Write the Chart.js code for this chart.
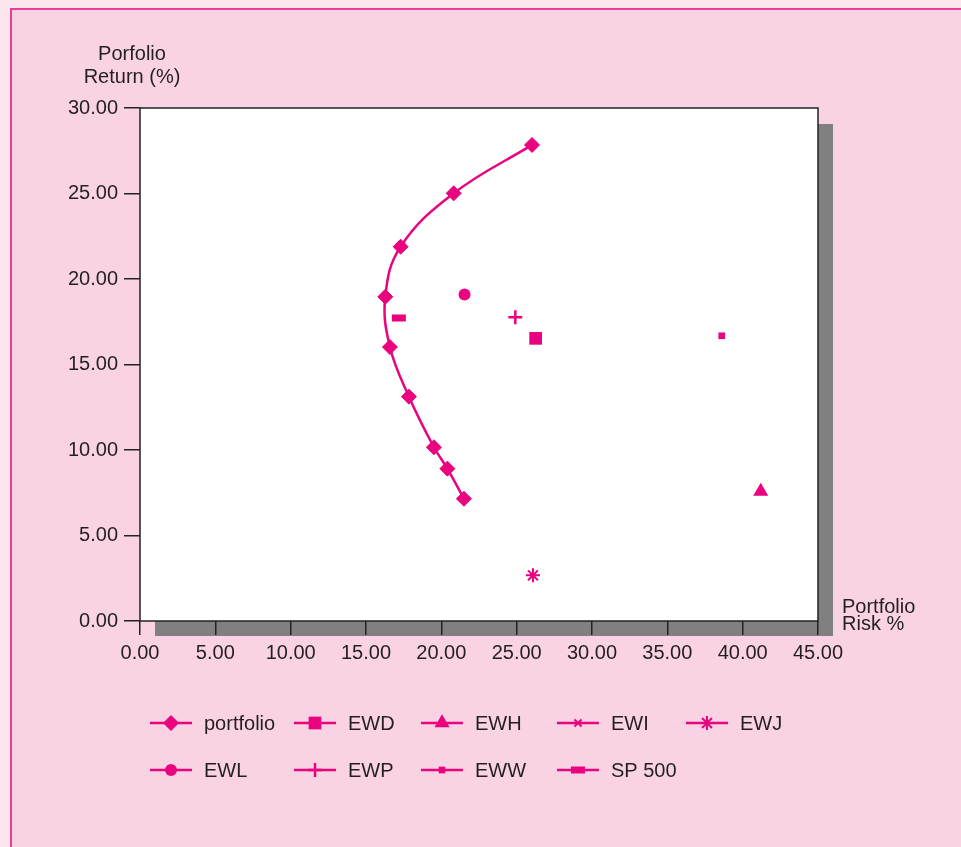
<!DOCTYPE html>
<html>
<head>
<meta charset="utf-8">
<script src="https://cdn.jsdelivr.net/npm/chart.js@4.4.1/dist/chart.umd.min.js"></script>
<style>
  html, body { margin: 0; padding: 0; background: #fde5ee; }
  #wrap { width: 961px; height: 847px; }
</style>
</head>
<body>
<div id="wrap"><canvas id="RiskChart" width="961" height="847"></canvas></div>
<script>
// efficient frontier points (risk %, return %)
const portfolioRisk = [26.02, 20.82, 17.30, 16.28, 16.59, 17.85, 19.51, 20.40, 21.50];
const portfolioReturn = [27.84, 25.01, 21.89, 18.96, 16.02, 13.12, 10.16, 8.91, 7.15];

// single funds
const fundNames = ['EWD', 'EWH', 'EWI', 'EWJ', 'EWL', 'EWP', 'EWW', 'SP 500'];
const fundRisk = [26.26, 41.20, null, 26.08, 21.54, 24.91, 38.61, 17.18];
const fundReturn = [16.53, 7.58, null, 2.67, 19.09, 17.77, 16.68, 17.72];

const xTicks = [0, 5, 10, 15, 20, 25, 30, 35, 40, 45];
const yTicks = [0, 5, 10, 15, 20, 25, 30];

const pink = '#e9037f';
const textColor = '#231f20';
const font = '20px "Liberation Sans", Arial, sans-serif';

const markers = {
    'EWD': { pointStyle: 'rect', radius: 9, borderWidth: 0 },
    'EWH': { pointStyle: 'triangle', radius: 8.7, borderWidth: 0 },
    'EWI': { pointStyle: 'crossRot', radius: 5, borderWidth: 2 },
    'EWJ': { pointStyle: 'star', radius: 7, borderWidth: 2 },
    'EWL': { pointStyle: 'circle', radius: 6, borderWidth: 0 },
    'EWP': { pointStyle: 'cross', radius: 7, borderWidth: 2.5 },
    'EWW': { pointStyle: 'rect', radius: 4.7, borderWidth: 0 },
    'SP 500': { pointStyle: 'line', radius: 7, borderWidth: 7 }
};

const datasets = [{
    label: 'portfolio',
    data: portfolioRisk.map((x, i) => ({ x: x, y: portfolioReturn[i] })),
    showLine: true,
    tension: 0.4,
    borderColor: pink,
    backgroundColor: pink,
    borderWidth: 2.5,
    pointStyle: 'rectRot',
    pointRadius: 7.5,
    pointBorderWidth: 1,
    pointBorderColor: pink,
    pointBackgroundColor: pink
}];
fundNames.forEach((name, i) => {
    const m = markers[name];
    datasets.push({
        label: name,
        data: fundRisk[i] === null ? [] : [{ x: fundRisk[i], y: fundReturn[i] }],
        showLine: false,
        pointStyle: m.pointStyle,
        pointRadius: m.radius,
        pointBorderWidth: m.borderWidth,
        pointBorderColor: pink,
        pointBackgroundColor: pink,
        borderColor: pink,
        backgroundColor: pink
    });
});

// background, shadow, plot box, axis titles
const framePlugin = {
    id: 'frame',
    beforeDraw(chart) {
        const ctx = chart.ctx;
        const a = chart.chartArea;
        ctx.save();
        ctx.fillStyle = '#fde5ee';
        ctx.fillRect(0, 0, 961, 847);
        ctx.fillStyle = '#f9d3e3';
        ctx.fillRect(11, 9, 950, 838);
        ctx.strokeStyle = '#ea3f96';
        ctx.lineWidth = 2;
        ctx.beginPath();
        ctx.moveTo(11, 847);
        ctx.lineTo(11, 9);
        ctx.lineTo(961, 9);
        ctx.stroke();
        ctx.fillStyle = '#808080';
        ctx.fillRect(a.left + 15, a.top + 16, a.right - a.left, a.bottom - a.top - 1);
        ctx.fillStyle = '#ffffff';
        ctx.fillRect(a.left, a.top, a.right - a.left, a.bottom - a.top);
        ctx.restore();
    },
    beforeDatasetsDraw(chart) {
        const ctx = chart.ctx;
        const a = chart.chartArea;
        ctx.save();
        ctx.strokeStyle = '#222';
        ctx.lineWidth = 1.5;
        ctx.strokeRect(a.left, a.top, a.right - a.left, a.bottom - a.top);
        ctx.fillStyle = textColor;
        ctx.font = font;
        ctx.textBaseline = 'middle';
        ctx.textAlign = 'center';
        ctx.fillText('Porfolio', 132, 54);
        ctx.fillText('Return (%)', 132, 77);
        ctx.textAlign = 'left';
        ctx.fillText('Portfolio', 842, 607);
        ctx.fillText('Risk %', 842, 624);
        ctx.restore();
    }
};

// legend laid out in a grid like the original
const legendPlugin = {
    id: 'gridLegend',
    afterDraw(chart) {
        const ctx = chart.ctx;
        const cols = [150, 294, 421, 557, 686];
        const rows = [723, 770];
        ctx.save();
        chart.data.datasets.forEach((ds, i) => {
            const col = cols[i % 5];
            const y = rows[Math.floor(i / 5)];
            ctx.strokeStyle = pink;
            ctx.lineWidth = 2.5;
            ctx.beginPath();
            ctx.moveTo(col, y);
            ctx.lineTo(col + 42, y);
            ctx.stroke();
            ctx.fillStyle = pink;
            ctx.strokeStyle = pink;
            ctx.lineWidth = ds.pointBorderWidth;
            Chart.helpers.drawPoint(ctx, {
                pointStyle: ds.pointStyle,
                radius: ds.pointRadius,
                borderWidth: ds.pointBorderWidth,
                rotation: 0
            }, col + 21, y);
            ctx.fillStyle = textColor;
            ctx.font = font;
            ctx.textAlign = 'left';
            ctx.textBaseline = 'middle';
            ctx.fillText(ds.label, col + 54, y + 1);
        });
        ctx.restore();
    }
};

const ctxRisk = document.getElementById('RiskChart');
const configRisk = {
    type: 'scatter',
    data: { datasets: datasets },
    options: {
        responsive: false,
        animation: false,
        devicePixelRatio: 1,
        layout: { padding: { left: 0, top: 108, right: 143, bottom: 166 } },
        plugins: { legend: { display: false }, tooltip: { enabled: false } },
        scales: {
            x: {
                type: 'linear',
                min: 0,
                max: 45,
                afterBuildTicks: s => { s.ticks = xTicks.map(v => ({ value: v })); },
                afterFit: s => { s.height = 60; },
                border: { display: false },
                grid: { drawOnChartArea: false, drawTicks: true, tickLength: 14, color: '#222', lineWidth: 1.5 },
                ticks: { color: textColor, font: { family: '"Liberation Sans", Arial', size: 20 }, padding: 6, maxRotation: 0, callback: v => v.toFixed(2) }
            },
            y: {
                type: 'linear',
                min: 0,
                max: 30,
                afterBuildTicks: s => { s.ticks = yTicks.map(v => ({ value: v })); },
                afterFit: s => { s.width = 140; },
                border: { display: false },
                grid: { drawOnChartArea: false, drawTicks: true, tickLength: 16, color: '#222', lineWidth: 1.5 },
                ticks: { color: textColor, font: { family: '"Liberation Sans", Arial', size: 20 }, padding: 6, callback: v => v.toFixed(2) }
            }
        }
    },
    plugins: [framePlugin, legendPlugin]
};
new Chart(ctxRisk, configRisk);
</script>
</body>
</html>
